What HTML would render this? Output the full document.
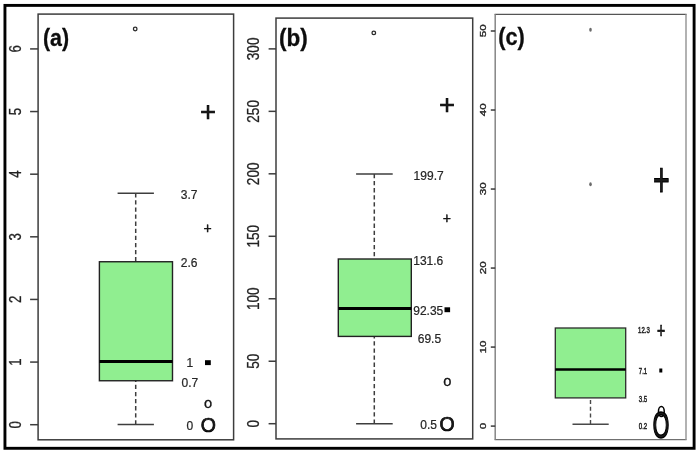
<!DOCTYPE html>
<html lang="en"><head><meta charset="utf-8"><title>Boxplots</title>
<style>html,body{margin:0;padding:0;background:#fff;}svg{display:block;}text{font-family:"Liberation Sans", Arial, sans-serif;fill:#1a1a1a;}.ax{font-size:16px;fill:#222;stroke:#222;stroke-width:0.28px;}.v{font-size:12.6px;fill:#262626;stroke:#262626;stroke-width:0.22px;}.lab{font-size:22.5px;font-weight:bold;fill:#0a0a0a;stroke:#0a0a0a;stroke-width:0.25px;}.ln{stroke:#3c3c3c;stroke-width:1.5;fill:none;}.lc{stroke:#7a7a7a;stroke-width:1.2;fill:none;}.lw{stroke:#484848;stroke-width:1.4;fill:none;}</style></head><body>
<svg width="699" height="452" viewBox="0 0 699 452">
<defs><filter id="soft" x="0" y="0" width="699" height="452" filterUnits="userSpaceOnUse"><feGaussianBlur stdDeviation="0.38"/></filter></defs>
<rect x="0" y="0" width="699" height="452" fill="#fff"/>
<g filter="url(#soft)">
<rect x="4.95" y="5.4" width="689.15" height="442.9" fill="none" stroke="#000" stroke-width="2.9"/>
<rect class="ln" x="38.10" y="14.10" width="195.50" height="425.70"/>
<line class="ln" x1="30.10" y1="424.70" x2="38.10" y2="424.70"/>
<line class="ln" x1="30.10" y1="362.07" x2="38.10" y2="362.07"/>
<line class="ln" x1="30.10" y1="299.44" x2="38.10" y2="299.44"/>
<line class="ln" x1="30.10" y1="236.81" x2="38.10" y2="236.81"/>
<line class="ln" x1="30.10" y1="174.18" x2="38.10" y2="174.18"/>
<line class="ln" x1="30.10" y1="111.55" x2="38.10" y2="111.55"/>
<line class="ln" x1="30.10" y1="48.92" x2="38.10" y2="48.92"/>
<text class="ax" style="font-size:15.6px" text-anchor="middle" transform="translate(20.5 424.70) rotate(-90) scale(0.85 1)">0</text>
<text class="ax" style="font-size:15.6px" text-anchor="middle" transform="translate(20.5 362.07) rotate(-90) scale(0.85 1)">1</text>
<text class="ax" style="font-size:15.6px" text-anchor="middle" transform="translate(20.5 299.44) rotate(-90) scale(0.85 1)">2</text>
<text class="ax" style="font-size:15.6px" text-anchor="middle" transform="translate(20.5 236.81) rotate(-90) scale(0.85 1)">3</text>
<text class="ax" style="font-size:15.6px" text-anchor="middle" transform="translate(20.5 174.18) rotate(-90) scale(0.85 1)">4</text>
<text class="ax" style="font-size:15.6px" text-anchor="middle" transform="translate(20.5 111.55) rotate(-90) scale(0.85 1)">5</text>
<text class="ax" style="font-size:15.6px" text-anchor="middle" transform="translate(20.5 48.92) rotate(-90) scale(0.85 1)">6</text>
<text class="lab" transform="translate(43.0 45.5) scale(0.95 1.08)">(a)</text>
<circle cx="135.2" cy="29" r="1.8" fill="#fff" stroke="#2a2a2a" stroke-width="1.3"/>
<line class="ln" x1="135.7" y1="193.2" x2="135.7" y2="261.75" stroke-dasharray="4.3 2.8"/>
<line class="ln" x1="135.7" y1="424.6" x2="135.7" y2="380.75" stroke-dasharray="4.3 2.8"/>
<line class="ln" x1="117.6" y1="193.2" x2="153.9" y2="193.2"/>
<line class="ln" x1="117.6" y1="424.6" x2="153.9" y2="424.6"/>
<rect x="99.4" y="261.75" width="73.1" height="119" fill="#90ee90" stroke="#222" stroke-width="1.4"/>
<line x1="99.4" y1="361.5" x2="172.5" y2="361.5" stroke="#000" stroke-width="3"/>
<text class="v" transform="translate(180.70 198.60) scale(0.955 1)">3.7</text>
<text class="v" transform="translate(180.70 267.40) scale(0.955 1)">2.6</text>
<text class="v" transform="translate(186.60 367.00) scale(0.955 1)">1</text>
<text class="v" transform="translate(181.50 386.60) scale(0.955 1)">0.7</text>
<text class="v" transform="translate(186.60 430.20) scale(0.955 1)">0</text>
<text text-anchor="middle" font-size="27.50" font-weight="normal" fill="#000" stroke="#000" stroke-width="0.55" transform="translate(208.00 112.20) scale(1.000 1.000)" y="9.21">+</text>
<text text-anchor="middle" font-size="14.00" font-weight="normal" fill="#000" stroke="#000" stroke-width="0.40" transform="translate(207.60 228.10) scale(1.000 1.000)" y="4.69">+</text>
<rect x="205" y="360.2" width="5.8" height="4.9" fill="#000"/>
<text text-anchor="middle" font-size="15.20" font-weight="normal" fill="#000" stroke="#000" stroke-width="0.30" transform="translate(208.00 404.30) scale(0.970 1.000)" y="3.95">o</text>
<text text-anchor="middle" font-size="19.50" font-weight="normal" fill="#000" stroke="#000" stroke-width="0.65" transform="translate(208.30 425.50) scale(1.000 1.000)" y="6.98">O</text>
<rect class="ln" x="276.00" y="18.10" width="196.70" height="420.80"/>
<line class="ln" x1="268.60" y1="423.70" x2="276.00" y2="423.70"/>
<line class="ln" x1="268.60" y1="361.23" x2="276.00" y2="361.23"/>
<line class="ln" x1="268.60" y1="298.76" x2="276.00" y2="298.76"/>
<line class="ln" x1="268.60" y1="236.29" x2="276.00" y2="236.29"/>
<line class="ln" x1="268.60" y1="173.82" x2="276.00" y2="173.82"/>
<line class="ln" x1="268.60" y1="111.35" x2="276.00" y2="111.35"/>
<line class="ln" x1="268.60" y1="48.88" x2="276.00" y2="48.88"/>
<text class="ax" text-anchor="middle" transform="translate(258.9 423.70) rotate(-90) scale(0.85 1)">0</text>
<text class="ax" text-anchor="middle" transform="translate(258.9 361.23) rotate(-90) scale(0.85 1)">50</text>
<text class="ax" text-anchor="middle" transform="translate(258.9 298.76) rotate(-90) scale(0.85 1)">100</text>
<text class="ax" text-anchor="middle" transform="translate(258.9 236.29) rotate(-90) scale(0.85 1)">150</text>
<text class="ax" text-anchor="middle" transform="translate(258.9 173.82) rotate(-90) scale(0.85 1)">200</text>
<text class="ax" text-anchor="middle" transform="translate(258.9 111.35) rotate(-90) scale(0.85 1)">250</text>
<text class="ax" text-anchor="middle" transform="translate(258.9 48.88) rotate(-90) scale(0.85 1)">300</text>
<text class="lab" transform="translate(279.0 45.5) scale(1.0 1.08)">(b)</text>
<circle cx="373.8" cy="32.9" r="1.8" fill="#fff" stroke="#2a2a2a" stroke-width="1.3"/>
<line class="ln" x1="374.3" y1="173.9" x2="374.3" y2="259" stroke-dasharray="4.3 2.8"/>
<line class="ln" x1="374.3" y1="423.7" x2="374.3" y2="336.5" stroke-dasharray="4.3 2.8"/>
<line class="ln" x1="356.1" y1="173.9" x2="392.7" y2="173.9"/>
<line class="ln" x1="356.1" y1="423.7" x2="392.7" y2="423.7"/>
<rect x="338.3" y="259" width="73.0" height="77.4" fill="#90ee90" stroke="#222" stroke-width="1.4"/>
<line x1="338.3" y1="308.5" x2="411.3" y2="308.5" stroke="#000" stroke-width="3"/>
<text class="v" transform="translate(413.60 179.90) scale(0.955 1)">199.7</text>
<text class="v" transform="translate(413.20 264.70) scale(0.955 1)">131.6</text>
<text class="v" transform="translate(413.20 314.70) scale(0.955 1)">92.35</text>
<text class="v" transform="translate(417.70 342.50) scale(0.955 1)">69.5</text>
<text class="v" transform="translate(420.20 429.20) scale(0.955 1)">0.5</text>
<text text-anchor="middle" font-size="27.50" font-weight="normal" fill="#000" stroke="#000" stroke-width="0.55" transform="translate(447.00 105.00) scale(1.000 1.000)" y="9.21">+</text>
<text text-anchor="middle" font-size="14.00" font-weight="normal" fill="#000" stroke="#000" stroke-width="0.40" transform="translate(446.90 218.00) scale(1.000 1.000)" y="4.69">+</text>
<rect x="444.5" y="307.3" width="5.6" height="4.9" fill="#000"/>
<text text-anchor="middle" font-size="15.20" font-weight="normal" fill="#000" stroke="#000" stroke-width="0.30" transform="translate(447.30 381.80) scale(0.970 1.000)" y="3.95">o</text>
<text text-anchor="middle" font-size="19.50" font-weight="normal" fill="#000" stroke="#000" stroke-width="0.65" transform="translate(447.20 424.40) scale(1.000 1.000)" y="6.98">O</text>
<line x1="494.60" y1="14.30" x2="686.60" y2="14.30" stroke="#555" stroke-width="1.3"/>
<line x1="494.60" y1="439.70" x2="686.60" y2="439.70" stroke="#707070" stroke-width="1.3"/>
<line x1="495.20" y1="14.30" x2="495.20" y2="439.70" stroke="#858585" stroke-width="1.5"/>
<line x1="686.00" y1="14.30" x2="686.00" y2="439.70" stroke="#999" stroke-width="1.5"/>
<line x1="490.8" y1="426.10" x2="495.2" y2="426.10" stroke="#3a3a3a" stroke-width="1.5"/>
<line x1="490.8" y1="347.08" x2="495.2" y2="347.08" stroke="#3a3a3a" stroke-width="1.5"/>
<line x1="490.8" y1="268.06" x2="495.2" y2="268.06" stroke="#3a3a3a" stroke-width="1.5"/>
<line x1="490.8" y1="189.04" x2="495.2" y2="189.04" stroke="#3a3a3a" stroke-width="1.5"/>
<line x1="490.8" y1="110.02" x2="495.2" y2="110.02" stroke="#3a3a3a" stroke-width="1.5"/>
<line x1="490.8" y1="31.00" x2="495.2" y2="31.00" stroke="#3a3a3a" stroke-width="1.5"/>
<text text-anchor="middle" font-size="8.6" fill="#2a2a2a" stroke="#2a2a2a" stroke-width="0.35" transform="translate(486.3 425.90) rotate(-90) scale(1.36 1)">0</text>
<text text-anchor="middle" font-size="8.6" fill="#2a2a2a" stroke="#2a2a2a" stroke-width="0.35" transform="translate(486.3 346.88) rotate(-90) scale(1.36 1)">10</text>
<text text-anchor="middle" font-size="8.6" fill="#2a2a2a" stroke="#2a2a2a" stroke-width="0.35" transform="translate(486.3 267.86) rotate(-90) scale(1.36 1)">20</text>
<text text-anchor="middle" font-size="8.6" fill="#2a2a2a" stroke="#2a2a2a" stroke-width="0.35" transform="translate(486.3 188.84) rotate(-90) scale(1.36 1)">30</text>
<text text-anchor="middle" font-size="8.6" fill="#2a2a2a" stroke="#2a2a2a" stroke-width="0.35" transform="translate(486.3 109.82) rotate(-90) scale(1.36 1)">40</text>
<text text-anchor="middle" font-size="8.6" fill="#2a2a2a" stroke="#2a2a2a" stroke-width="0.35" transform="translate(486.3 30.80) rotate(-90) scale(1.36 1)">50</text>
<text class="lab" transform="translate(498.3 45.2) scale(0.965 1.08)">(c)</text>
<ellipse cx="590.5" cy="29.7" rx="1.3" ry="2" fill="#6a6a6a" stroke="none"/>
<ellipse cx="590.5" cy="184.2" rx="1.3" ry="2" fill="#6a6a6a" stroke="none"/>
<line class="lw" x1="590.5" y1="424.2" x2="590.5" y2="398" stroke-dasharray="4.1 2.6"/>
<line class="lw" x1="572.5" y1="424.3" x2="608.7" y2="424.3"/>
<rect x="555.3" y="328" width="70.4" height="69.9" fill="#90ee90" stroke="#2c2c2c" stroke-width="1.3"/>
<line x1="555.3" y1="369.5" x2="625.7" y2="369.5" stroke="#000" stroke-width="2.4"/>
<text font-size="9.4" fill="#222" stroke="#222" stroke-width="0.5" transform="translate(638.10 332.80) scale(0.64 1)">12.3</text>
<text font-size="9.4" fill="#222" stroke="#222" stroke-width="0.5" transform="translate(638.80 374.10) scale(0.64 1)">7.1</text>
<text font-size="9.4" fill="#222" stroke="#222" stroke-width="0.5" transform="translate(638.80 402.30) scale(0.64 1)">3.5</text>
<text font-size="9.4" fill="#222" stroke="#222" stroke-width="0.5" transform="translate(638.80 428.80) scale(0.64 1)">0.2</text>
<text text-anchor="middle" font-size="26.00" font-weight="normal" fill="#000" stroke="#000" stroke-width="0.55" transform="translate(661.40 180.00) scale(1.100 1.830)" y="8.71">+</text>
<text text-anchor="middle" font-size="14.00" font-weight="normal" fill="#000" stroke="#000" stroke-width="0.45" transform="translate(661.05 329.90) scale(1.000 1.620)" y="4.69">+</text>
<rect x="659.3" y="368.5" width="3" height="4" fill="#000"/>
<ellipse cx="661.35" cy="411.5" rx="2.9" ry="5.1" fill="none" stroke="#000" stroke-width="1.5"/>
<text text-anchor="middle" font-size="19.50" font-weight="normal" fill="#000" stroke="#000" stroke-width="0.85" transform="translate(661.05 425.20) scale(1.090 1.860)" y="6.98">O</text>
</g>
</svg></body></html>
